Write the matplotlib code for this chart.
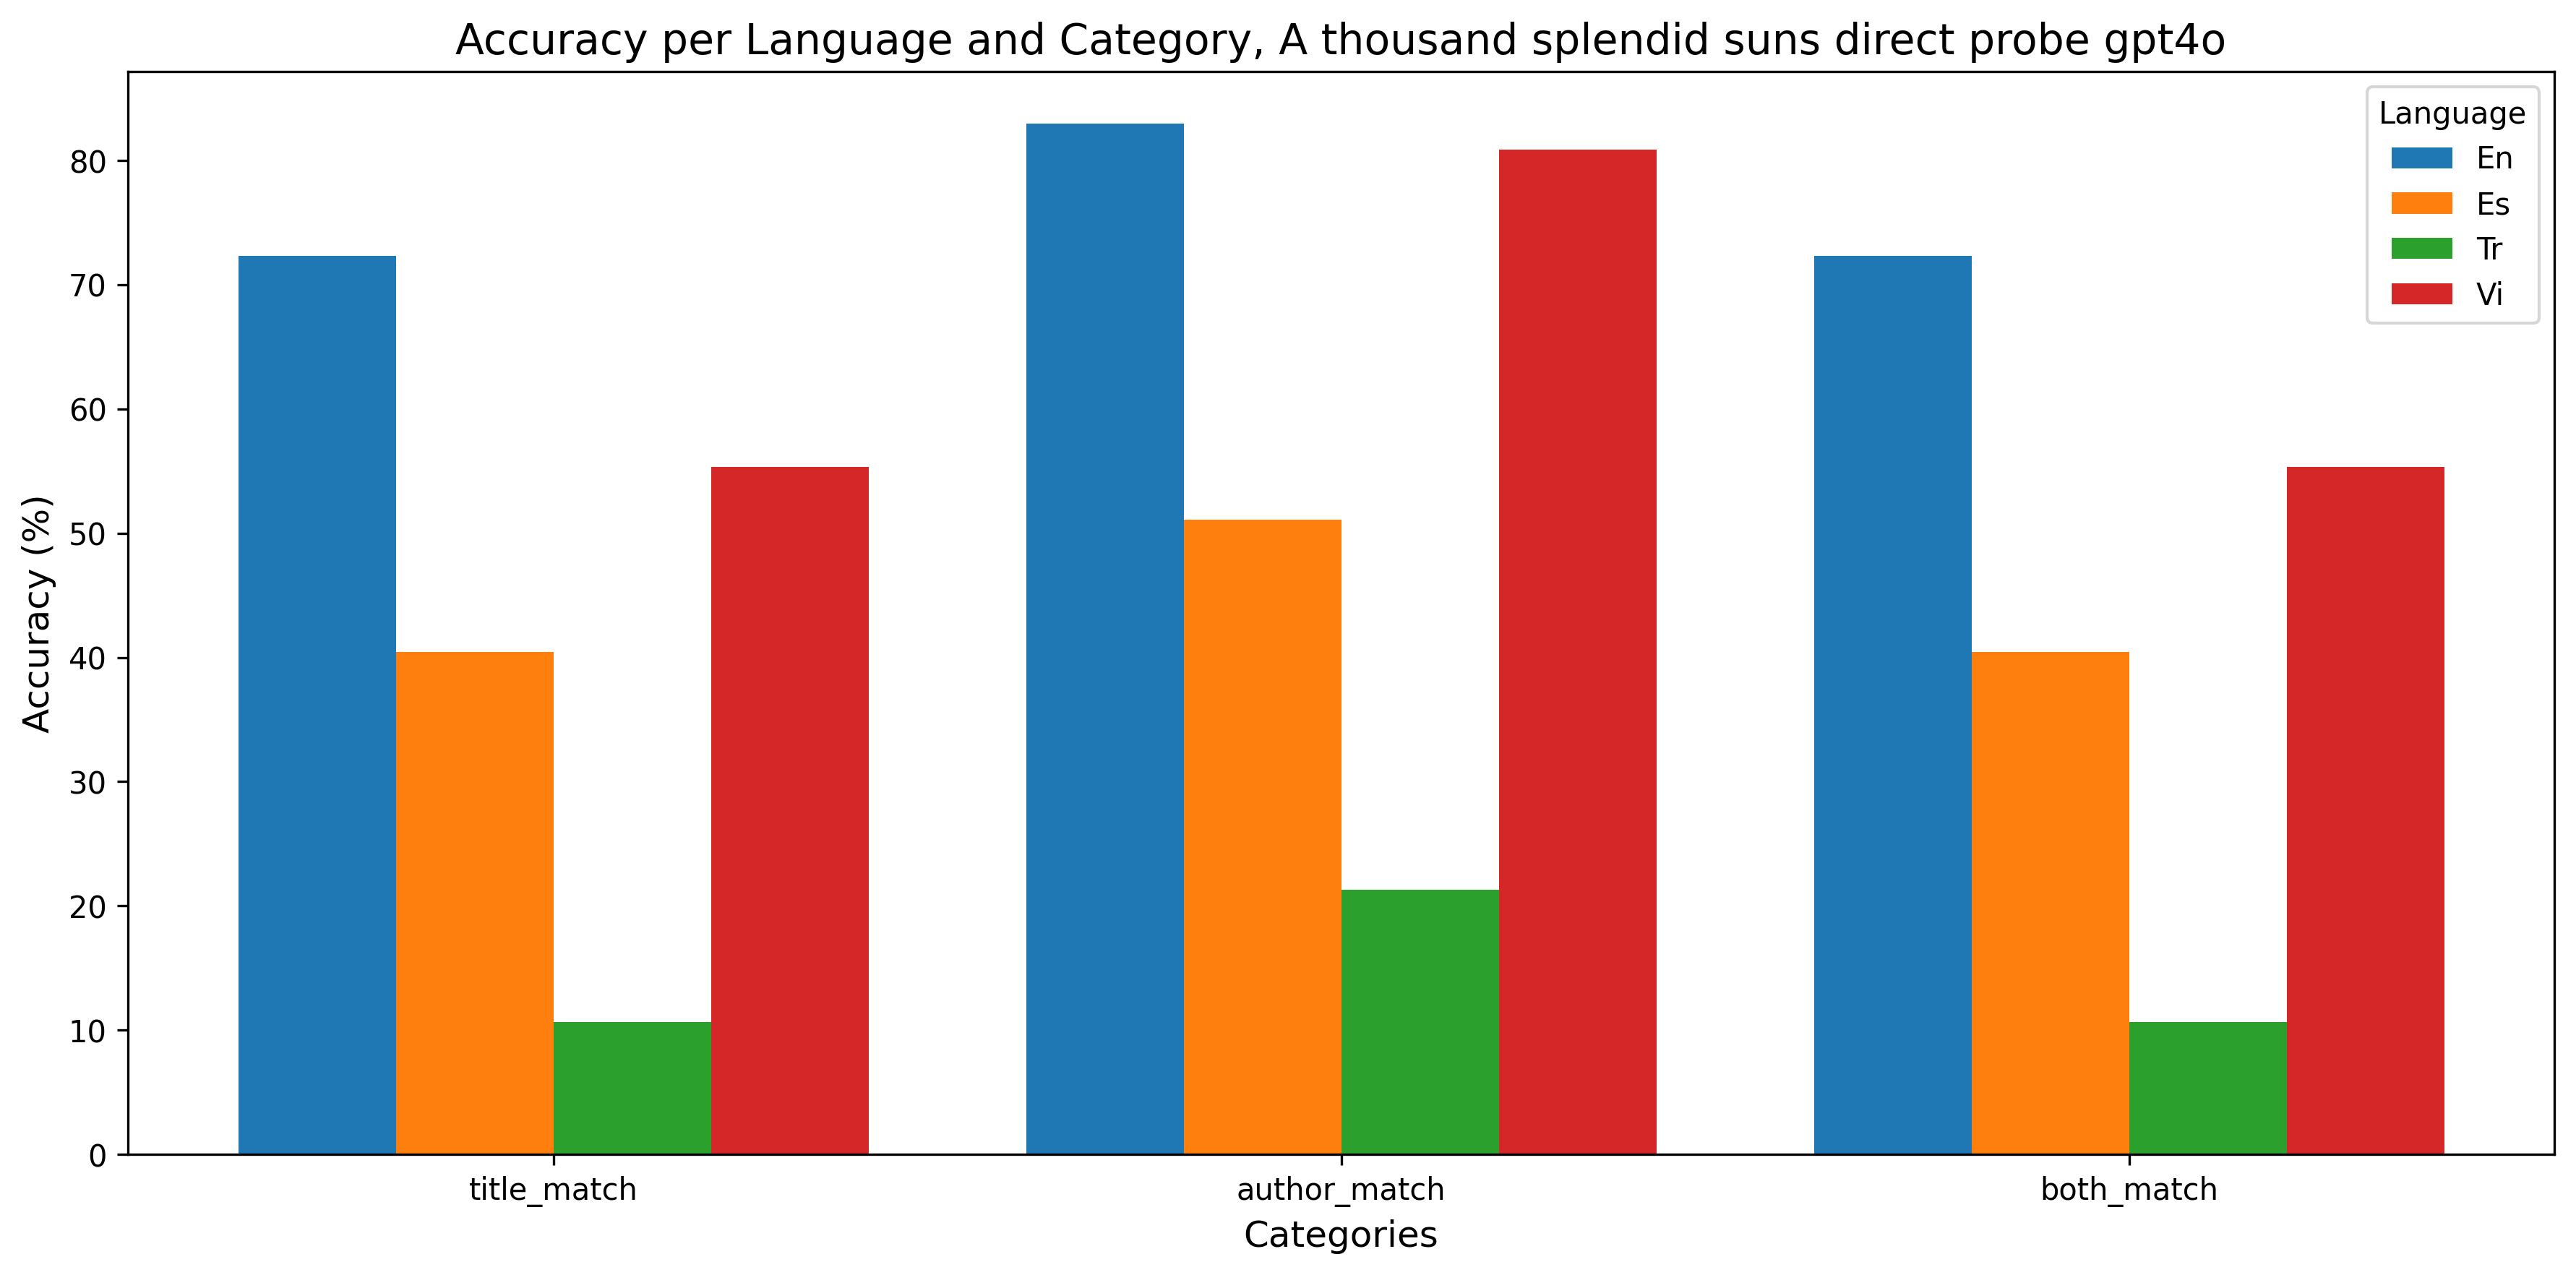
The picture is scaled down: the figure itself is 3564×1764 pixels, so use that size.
import numpy as np
import matplotlib
matplotlib.use('Agg')
import matplotlib.pyplot as plt

# 数据
categories = ['title_match', 'author_match', 'both_match']
languages = ['En', 'Es', 'Tr', 'Vi']
acc_en = [72.34, 82.98, 72.34]
acc_es = [40.43, 51.06, 40.43]
acc_tr = [10.64, 21.28, 10.64]
acc_vi = [55.32, 80.85, 55.32]

values = [acc_en, acc_es, acc_tr, acc_vi]

x = np.arange(len(categories))
width = 0.2

fig, ax = plt.subplots(figsize=(12, 6))
for i, (lang, vals) in enumerate(zip(languages, values)):
    ax.bar(x + (i - 1.5) * width, vals, width, label=lang)

ax.set_xticks(x)
ax.set_xticklabels(categories)
ax.set_xlabel('Categories', fontsize=12)
ax.set_ylabel('Accuracy (%)', fontsize=12)
ax.set_title('Accuracy per Language and Category, A thousand splendid suns direct probe gpt4o', fontsize=14)
ax.legend(title='Language')

plt.tight_layout()
plt.savefig('out.png', dpi=300, bbox_inches='tight')
